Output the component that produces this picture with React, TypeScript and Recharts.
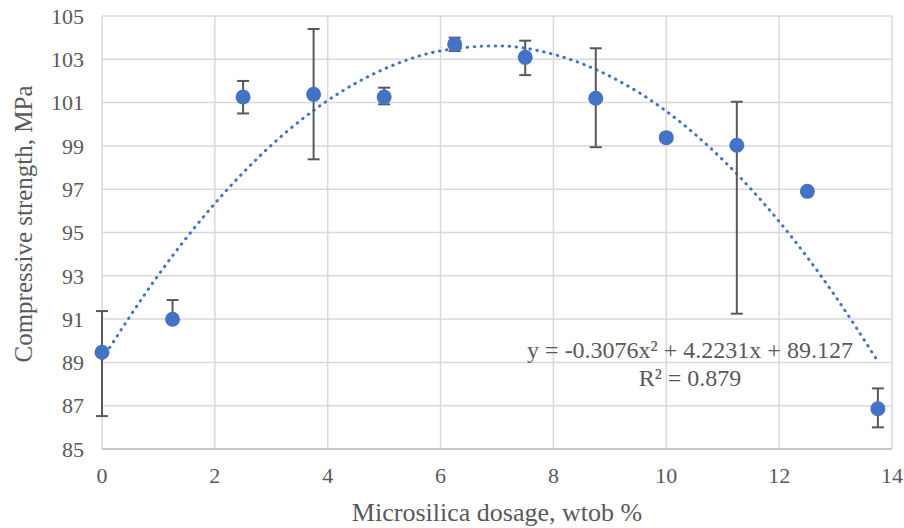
import {
  CartesianGrid,
  ComposedChart,
  ErrorBar,
  Label,
  Line,
  Scatter,
  XAxis,
  YAxis,
} from "recharts";

const dosage = [0, 1.25, 2.5, 3.75, 5, 6.25, 7.5, 8.75, 10, 11.25, 12.5, 13.75];
const strength = [89.47, 90.99, 101.26, 101.38, 101.26, 103.69, 103.09, 101.2, 99.38, 99.03, 96.9, 86.86];
const errLow = [2.95, 0, 0.76, 3.0, 0.34, 0.31, 0.82, 2.26, 0, 7.78, 0.15, 0.86];
const errHigh = [1.9, 0.89, 0.74, 3.02, 0.43, 0.31, 0.77, 2.31, 0, 2.01, 0.15, 0.94];

// trend line (matches the printed polynomial)
const trendX = [0, 1, 2, 3, 4, 5, 6, 7, 8, 9, 10, 11, 12, 13, 13.75];
const trendY = [89.13, 93.04, 96.34, 99.03, 101.1, 102.55, 103.39, 103.62, 103.23, 102.22, 100.6, 98.36, 95.51, 92.04, 89.04];

const xTicks = [0, 2, 4, 6, 8, 10, 12, 14];
const yTicks = [85, 87, 89, 91, 93, 95, 97, 99, 101, 103, 105];

const points = dosage.map((x, i) => ({
  x,
  y: strength[i],
  err: [errLow[i], errHigh[i]],
}));
const trend = trendX.map((x, i) => ({ x, y: trendY[i] }));

const blue = "#4472C4";
const grey = "#595959";
const font = "'Liberation Serif', 'Times New Roman', serif";

const Marker = (props: any) => (
  <circle cx={props.cx} cy={props.cy} r={7.5} fill={blue} />
);

const XTick = ({ x, y, payload }: any) => (
  <text x={x} y={y + 34} textAnchor="middle" fill={grey} fontSize={22} fontFamily={font}>
    {payload.value}
  </text>
);

const YTick = ({ x, y, payload }: any) => (
  <text x={x} y={y} dy="0.35em" textAnchor="end" fill={grey} fontSize={22} fontFamily={font}>
    {payload.value}
  </text>
);

export default function App() {
  return (
    <div style={{ position: "relative", width: 904, height: 528, fontFamily: font }}>
      <style>{`body{margin:0}`}</style>
      <ComposedChart
        width={904}
        height={528}
        margin={{ top: 16, right: 12, bottom: 0, left: 0 }}
      >
        <CartesianGrid stroke="#d9d9d9" strokeWidth={1.5} />
        <XAxis
          type="number"
          dataKey="x"
          domain={[0, 14]}
          ticks={xTicks}
          height={79}
          tickLine={false}
          tickSize={0}
          tickMargin={0}
          axisLine={{ stroke: "#bfbfbf", strokeWidth: 1.5 }}
          tick={<XTick />}
        >
          <Label
            content={() => (
              <text
                x={497}
                y={521}
                textAnchor="middle"
                fill={grey}
                fontSize={26}
                fontFamily={font}
              >
                Microsilica dosage, wtob %
              </text>
            )}
          />
        </XAxis>
        <YAxis
          type="number"
          dataKey="y"
          domain={[85, 105]}
          ticks={yTicks}
          width={102}
          tickLine={false}
          tickSize={0}
          tickMargin={18}
          axisLine={false}
          tick={<YTick />}
        >
          <Label
            content={() => (
              <text
                x={32}
                y={224}
                transform="rotate(-90, 32, 224)"
                textAnchor="middle"
                fill={grey}
                fontSize={25}
                fontFamily={font}
              >
                Compressive strength, MPa
              </text>
            )}
          />
        </YAxis>
        <Line
          data={trend}
          dataKey="y"
          type="monotone"
          stroke={blue}
          strokeWidth={3}
          strokeDasharray="0.5 6.5"
          strokeLinecap="round"
          dot={false}
          activeDot={false}
          isAnimationActive={false}
        />
        <Scatter data={points} shape={Marker} isAnimationActive={false}>
          <ErrorBar
            dataKey="err"
            direction="y"
            width={6}
            stroke={grey}
            strokeWidth={2}
            isAnimationActive={false}
          />
        </Scatter>
      </ComposedChart>
      <svg
        width={904}
        height={528}
        style={{ position: "absolute", left: 0, top: 0, pointerEvents: "none" }}
      >
        <text x={690} y={358} textAnchor="middle" fill={grey} fontSize={24} fontFamily={font}>
          y = -0.3076x² + 4.2231x + 89.127
        </text>
        <text x={690} y={386} textAnchor="middle" fill={grey} fontSize={24} fontFamily={font}>
          R² = 0.879
        </text>
      </svg>
    </div>
  );
}
